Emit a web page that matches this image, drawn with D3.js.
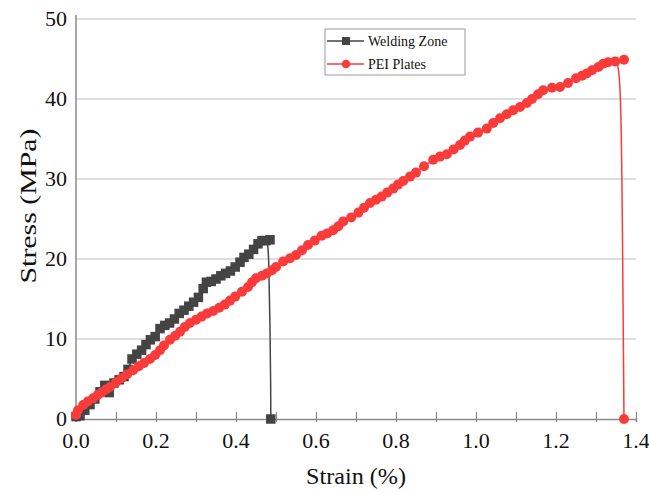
<!DOCTYPE html>
<html>
<head>
<meta charset="utf-8">
<script src="https://cdn.jsdelivr.net/npm/d3@7"></script>
<style>
  body { margin: 0; background: #fff; }
  text { font-family: "Liberation Serif", "DejaVu Serif", serif; fill: #111; }
</style>
</head>
<body>
<svg id="chart" width="649" height="493"></svg>
<script>
// Welding Zone (grey squares)
var weldStrain = [0.0, 0.01, 0.022, 0.035, 0.047, 0.06, 0.072, 0.083, 0.095, 0.108, 0.12, 0.13, 0.14, 0.152, 0.164,
	0.175, 0.186, 0.198, 0.21, 0.222, 0.234, 0.246, 0.258, 0.27, 0.282, 0.294, 0.306, 0.318, 0.326, 0.338, 0.35,
	0.362, 0.374, 0.386, 0.398, 0.41, 0.42, 0.432, 0.444, 0.455, 0.465, 0.475, 0.485];
var weldStress = [0.3, 0.4, 1.1, 1.8, 2.5, 3.4, 4.2, 3.3, 4.5, 4.9, 5.3, 6.2, 7.5, 8.1, 8.6,
	9.3, 9.9, 10.3, 11.3, 11.7, 12.0, 12.5, 13.2, 13.6, 14.1, 14.6, 15.2, 16.3, 17.1, 17.2, 17.5,
	17.9, 18.2, 18.5, 19.0, 19.6, 20.2, 20.6, 21.2, 21.9, 22.3, 22.3, 22.4];
// failure drop of the weld, last point is the marker on the axis
var weldDropStrain = [0.478, 0.482, 0.485, 0.487, 0.487];
var weldDropStress = [22.4, 20.5, 12, 3, 0];

// PEI Plates (red circles)
var peiStrain = [0.0, 0.005, 0.018, 0.03, 0.043, 0.054, 0.064, 0.075, 0.085, 0.1, 0.114, 0.128, 0.143, 0.157, 0.17,
	0.185, 0.198, 0.21, 0.22, 0.235, 0.248, 0.26, 0.272, 0.285, 0.3, 0.314, 0.328, 0.343, 0.358, 0.372, 0.385,
	0.398, 0.415, 0.43, 0.44, 0.45, 0.465, 0.477, 0.49, 0.5, 0.518, 0.535, 0.55, 0.565, 0.58, 0.597, 0.614,
	0.628, 0.643, 0.656, 0.668, 0.688, 0.706, 0.72, 0.735, 0.75, 0.764, 0.778, 0.793, 0.805, 0.818, 0.835, 0.85,
	0.87, 0.893, 0.91, 0.927, 0.944, 0.96, 0.972, 0.985, 1.005, 1.027, 1.043, 1.06, 1.077, 1.093, 1.11, 1.127,
	1.14, 1.155, 1.168, 1.19, 1.21, 1.23, 1.25, 1.265, 1.277, 1.29, 1.306, 1.318, 1.33, 1.348, 1.37];
var peiStress = [0.5, 1.1, 1.75, 2.2, 2.6, 3.0, 3.3, 3.7, 4.0, 4.6, 5.1, 5.6, 6.1, 6.6, 7.0,
	7.5, 8.0, 8.6, 9.2, 9.9, 10.4, 10.9, 11.5, 12.0, 12.4, 12.8, 13.2, 13.5, 13.9, 14.3, 14.8,
	15.3, 15.9, 16.5, 17.1, 17.6, 17.9, 18.2, 18.6, 19.0, 19.7, 20.1, 20.5, 21.1, 21.75, 22.3, 22.9,
	23.2, 23.6, 24.1, 24.7, 25.2, 25.8, 26.4, 27.0, 27.4, 27.8, 28.3, 28.8, 29.3, 29.75, 30.3, 30.8,
	31.6, 32.4, 32.8, 33.1, 33.7, 34.25, 34.8, 35.3, 35.8, 36.3, 37.0, 37.6, 38.1, 38.6, 39.0, 39.5,
	40.0, 40.6, 41.1, 41.4, 41.5, 42.0, 42.6, 42.9, 43.2, 43.6, 44.0, 44.4, 44.6, 44.7, 44.9];
var peiDropStrain = [1.352, 1.362, 1.366, 1.369, 1.37];
var peiDropStress = [44.7, 42.5, 25, 6, 0];

var xTicks = [0, 0.2, 0.4, 0.6, 0.8, 1.0, 1.2, 1.4];
var xMinorTicks = d3.range(0, 1.401, 0.1);
var yTicks = [0, 10, 20, 30, 40, 50];
var seriesNames = ["Welding Zone", "PEI Plates"];

var weldColor = "#444444";
var peiColor = "#fb3a3a";

var svg = d3.select("#chart");
var margin = {left: 76, top: 19, right: 13, bottom: 74};
var W = 649 - margin.left - margin.right;
var H = 493 - margin.top - margin.bottom;

var x = d3.scaleLinear().domain([0, 1.4]).range([margin.left, margin.left + W]);
var y = d3.scaleLinear().domain([0, 50]).range([margin.top + H, margin.top]);

// gridlines
svg.append("g").selectAll("line")
	.data(yTicks.filter(d => d > 0))
	.enter().append("line")
	.attr("x1", x(0)).attr("x2", x(1.4))
	.attr("y1", d => y(d)).attr("y2", d => y(d))
	.style("stroke", "#bdbdbd").style("stroke-width", 1.2);

// y axis
svg.append("line")
	.attr("x1", x(0)).attr("x2", x(0))
	.attr("y1", y(0) + 3).attr("y2", y(50) - 4)
	.style("stroke", "#8a8a8a").style("stroke-width", 1.5);

svg.append("g").selectAll("text")
	.data(yTicks)
	.enter().append("text")
	.attr("x", x(0) - 9)
	.attr("y", d => y(d) + 7)
	.attr("text-anchor", "end")
	.style("font-size", "22px")
	.text(d => d);

// x axis with crossing ticks
var xAxis = d3.axisBottom(x).tickValues(xMinorTicks).tickSize(3).tickFormat("");
var gx = svg.append("g").attr("transform", `translate(0,${y(0)})`).call(xAxis);
gx.select(".domain").style("stroke", "#8a8a8a").style("stroke-width", 1.5);
gx.selectAll(".tick line").attr("y1", -7).style("stroke", "#8a8a8a").style("stroke-width", 1.2);

svg.append("g").selectAll("text")
	.data(xTicks)
	.enter().append("text")
	.attr("x", d => x(d))
	.attr("y", y(0) + 29)
	.attr("text-anchor", "middle")
	.style("font-size", "22px")
	.text(d => d3.format(".1f")(d));

// axis titles
svg.append("text")
	.attr("x", x(0.7))
	.attr("y", 484)
	.attr("text-anchor", "middle")
	.style("font-size", "23px")
	.attr("textLength", 100)
	.attr("lengthAdjust", "spacingAndGlyphs")
	.text("Strain (%)");

svg.append("text")
	.attr("transform", "translate(36,206) rotate(-90)")
	.attr("text-anchor", "middle")
	.style("font-size", "23px")
	.attr("textLength", 155)
	.attr("lengthAdjust", "spacingAndGlyphs")
	.text("Stress (MPa)");

var weld = weldStrain.map((d, i) => [d, weldStress[i]]);
var weldDrop = weldDropStrain.map((d, i) => [d, weldDropStress[i]]);
var pei = peiStrain.map((d, i) => [d, peiStress[i]]);
var peiDrop = peiDropStrain.map((d, i) => [d, peiDropStress[i]]);

var line = d3.line().x(d => x(d[0])).y(d => y(d[1]));
var dropLine = d3.line().x(d => x(d[0])).y(d => y(d[1])).curve(d3.curveBasis);

// weld series
svg.append("path").datum(weld).attr("d", line)
	.style("fill", "none").style("stroke", weldColor).style("stroke-width", 1.5);
svg.append("path").datum(weldDrop).attr("d", dropLine)
	.style("fill", "none").style("stroke", weldColor).style("stroke-width", 1.5);
var sq = 9.5;
svg.append("g").selectAll("rect")
	.data(weld.concat([weldDrop[weldDrop.length - 1]]))
	.enter().append("rect")
	.attr("x", d => x(d[0]) - sq / 2)
	.attr("y", d => y(d[1]) - sq / 2)
	.attr("width", sq).attr("height", sq)
	.style("fill", weldColor);

// PEI series
svg.append("path").datum(pei).attr("d", line)
	.style("fill", "none").style("stroke", peiColor).style("stroke-width", 1.5);
svg.append("path").datum(peiDrop).attr("d", dropLine)
	.style("fill", "none").style("stroke", peiColor).style("stroke-width", 1.5);
svg.append("g").selectAll("circle")
	.data(pei.concat([peiDrop[peiDrop.length - 1]]))
	.enter().append("circle")
	.attr("cx", d => x(d[0]))
	.attr("cy", d => y(d[1]))
	.attr("r", 5)
	.style("fill", peiColor);

// legend
var legend = svg.append("g");
legend.append("rect")
	.attr("x", 325).attr("y", 29).attr("width", 140).attr("height", 46)
	.style("fill", "#fff").style("stroke", "#9a9a9a").style("stroke-width", 1);
seriesNames.forEach(function (name, i) {
	var ly = 41 + i * 23;
	var c = i == 0 ? weldColor : peiColor;
	legend.append("line")
		.attr("x1", 327).attr("x2", 364).attr("y1", ly).attr("y2", ly)
		.style("stroke", c).style("stroke-width", 1.5);
	if (i == 0) {
		legend.append("rect").attr("x", 342).attr("y", ly - 4).attr("width", 8).attr("height", 8).style("fill", c);
	} else {
		legend.append("circle").attr("cx", 346).attr("cy", ly).attr("r", 4.3).style("fill", c);
	}
	legend.append("text")
		.attr("x", 368).attr("y", ly + 5)
		.style("font-size", "14px")
		.text(name);
});
</script>
</body>
</html>
